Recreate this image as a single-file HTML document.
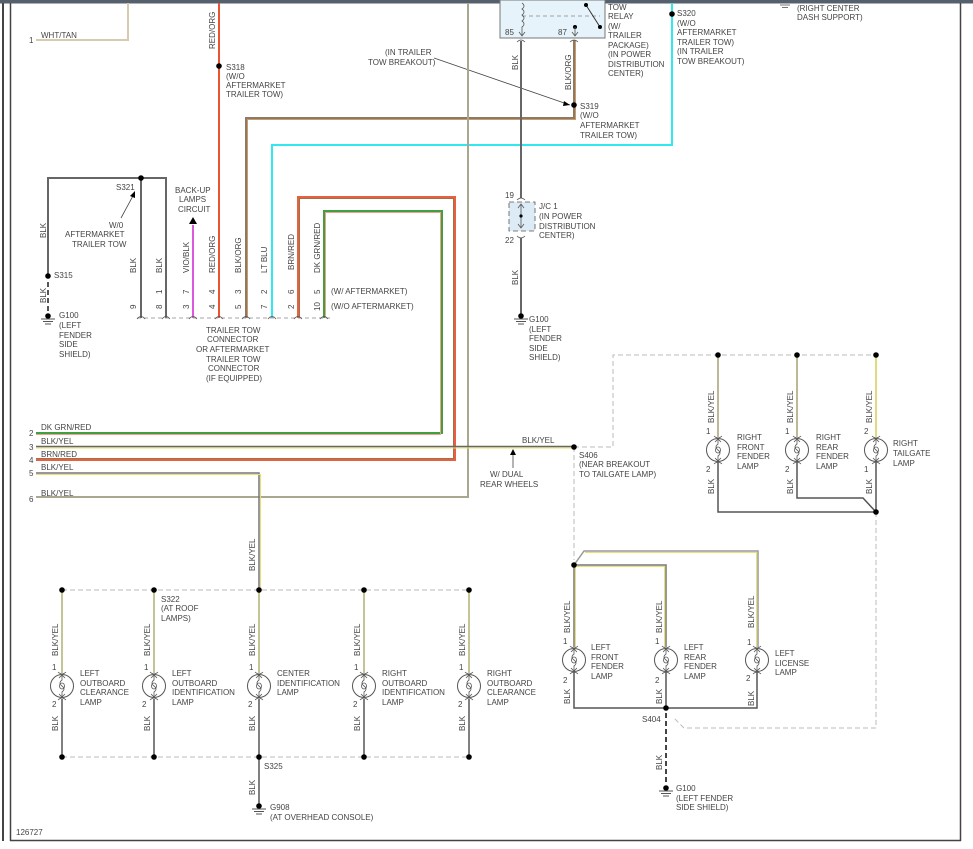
<!DOCTYPE html>
<html><head><meta charset="utf-8"><style>
html,body{margin:0;padding:0;background:#fff;}
svg{display:block;font-family:"Liberation Sans",sans-serif;}
text{font-size:8px;fill:#444;}
</style></head><body>
<svg width="973" height="849" viewBox="0 0 973 849" xmlns="http://www.w3.org/2000/svg">
<defs>
<g id="lamp">
<circle cx="0" cy="0" r="11.5" fill="#fff" stroke="#555" stroke-width="1"/>
<path d="M-4,-14 Q0,-10 4,-14 M-4,14 Q0,10 4,14" fill="none" stroke="#555" stroke-width="0.8"/>
<path d="M-3,-8 L0,-11 L3,-8 M0,-11 L0,-6 Q-4,-3 0,0 Q4,3 0,6 L0,11 M-3,8 L0,11 L3,8" fill="none" stroke="#555" stroke-width="0.8"/>
<ellipse cx="0" cy="0" rx="2.5" ry="3" fill="none" stroke="#555" stroke-width="0.8"/>
</g>
<g id="gnd">
<circle cx="0" cy="0" r="2.8" fill="#000"/>
<path d="M-7,3 H7 M-5,5.5 H5 M-3,8 H3" stroke="#555" stroke-width="1"/>
</g>
</defs>

<!-- frame -->
<rect x="0" y="0" width="973" height="3.5" fill="#56606c"/>
<line x1="3" y1="3" x2="3" y2="841" stroke="#444" stroke-width="2"/>
<line x1="10.5" y1="3" x2="10.5" y2="841" stroke="#444" stroke-width="1.5"/>
<line x1="10" y1="840.5" x2="961" y2="840.5" stroke="#444" stroke-width="1.5"/>
<line x1="960.5" y1="3" x2="960.5" y2="841" stroke="#444" stroke-width="1.5"/>

<!-- WHT/TAN -->
<polyline points="36,40 128,40 128,3" fill="none" stroke="#d8cab0" stroke-width="2"/>
<text x="29" y="43">1</text><text x="41" y="38">WHT/TAN</text>

<!-- RED/ORG -->
<line x1="219" y1="3" x2="219" y2="318" stroke="#e85530" stroke-width="2"/>
<circle cx="219" cy="66" r="2.8" fill="#000"/>
<text transform="translate(215,49) rotate(-90)">RED/ORG</text>
<text x="226" y="70">S318</text><text x="226" y="79">(W/O</text><text x="226" y="88">AFTERMARKET</text><text x="226" y="97">TRAILER TOW)</text>

<!-- BLK/ORG -->
<polyline points="246,318 246,118 574,118 574,40" fill="none" stroke="#8a7a6a" stroke-width="2"/>
<polyline points="247.5,318 247.5,119.5 575.5,119.5 575.5,40" fill="none" stroke="#d09a60" stroke-width="1"/>
<circle cx="574" cy="105" r="2.8" fill="#000"/>
<text x="580" y="109">S319</text><text x="580" y="118">(W/O</text><text x="580" y="128">AFTERMARKET</text><text x="580" y="138">TRAILER TOW)</text>
<text transform="translate(571,90) rotate(-90)">BLK/ORG</text>
<line x1="434" y1="58" x2="570" y2="105" stroke="#444" stroke-width="0.8"/>
<path d="M570,105 L564,101 L563,106 Z" fill="#000"/>
<text x="385" y="55">(IN TRAILER</text><text x="368" y="65">TOW BREAKOUT)</text>

<!-- LT BLU -->
<polyline points="272,318 272,145 672,145 672,3" fill="none" stroke="#30e8f0" stroke-width="2"/>
<circle cx="672" cy="14" r="2.8" fill="#000"/>
<text x="677" y="16">S320</text><text x="677" y="26">(W/O</text><text x="677" y="35">AFTERMARKET</text><text x="677" y="45">TRAILER TOW)</text><text x="677" y="54">(IN TRAILER</text><text x="677" y="64">TOW BREAKOUT)</text>
<text x="797" y="11">(RIGHT CENTER</text><text x="797" y="20">DASH SUPPORT)</text>
<path d="M780,5 H790 M782,7.5 H788" stroke="#777" stroke-width="1"/>

<!-- BRN/RED -->
<polyline points="298,318 298,197 455,197 455,460 36,460" fill="none" stroke="#e86040" stroke-width="2"/>
<polyline points="299.5,318 299.5,198.5 453.5,198.5 453.5,458.5 36,458.5" fill="none" stroke="#a07048" stroke-width="1"/>
<!-- DK GRN/RED -->
<polyline points="324,318 324,211 442,211 442,433 36,433" fill="none" stroke="#40a040" stroke-width="2"/>
<polyline points="325.5,318 325.5,212.5 440.5,212.5 440.5,434.5 36,434.5" fill="none" stroke="#f0a090" stroke-width="1"/>
<!-- row6 BLK/YEL -->
<polyline points="468,3 468,497 36,497" fill="none" stroke="#a8a890" stroke-width="2"/>
<!-- row3 -->
<line x1="36" y1="446.5" x2="574" y2="446.5" stroke="#666" stroke-width="1.5"/>
<line x1="36" y1="448" x2="574" y2="448" stroke="#e8e070" stroke-width="1"/>
<!-- row5 -->
<polyline points="36,473 259,473 259,590" fill="none" stroke="#777" stroke-width="1.5"/>
<polyline points="36,474.5 260.5,474.5 260.5,590" fill="none" stroke="#e8e070" stroke-width="1"/>

<text x="29" y="436">2</text><text x="41" y="430">DK GRN/RED</text>
<text x="29" y="450">3</text><text x="41" y="444">BLK/YEL</text>
<text x="29" y="463">4</text><text x="41" y="457">BRN/RED</text>
<text x="29" y="476">5</text><text x="41" y="470">BLK/YEL</text>
<text x="29" y="502">6</text><text x="41" y="496">BLK/YEL</text>
<text x="522" y="443">BLK/YEL</text>
<line x1="513" y1="450" x2="513" y2="468" stroke="#444" stroke-width="0.8"/>
<path d="M513,449 L510,455 L516,455 Z" fill="#000"/>
<text x="490" y="477">W/ DUAL</text><text x="480" y="487">REAR WHEELS</text>

<!-- BLK S321 group -->
<polyline points="48,276 48,178 166,178 166,318" fill="none" stroke="#666" stroke-width="2"/>
<line x1="141" y1="178" x2="141" y2="318" stroke="#666" stroke-width="2"/>
<circle cx="141" cy="178" r="2.8" fill="#000"/>
<text x="116" y="190">S321</text>
<line x1="121" y1="218" x2="134" y2="194" stroke="#444" stroke-width="0.8"/>
<path d="M135,191 L130,196 L135,198 Z" fill="#000"/>
<text x="109" y="228">W/0</text><text x="65" y="237">AFTERMARKET</text><text x="72" y="247">TRAILER TOW</text>
<text transform="translate(46,238) rotate(-90)">BLK</text>
<circle cx="48" cy="276" r="2.8" fill="#000"/><text x="54" y="278">S315</text>
<line x1="48" y1="282" x2="48" y2="312" stroke="#555" stroke-width="2" stroke-dasharray="5,3"/>
<text transform="translate(46,303) rotate(-90)">BLK</text>
<use href="#gnd" x="48" y="316"/>
<text x="59" y="318">G100</text><text x="59" y="328">(LEFT</text><text x="59" y="338">FENDER</text><text x="59" y="347">SIDE</text><text x="59" y="357">SHIELD)</text>

<!-- VIO/BLK -->
<line x1="193" y1="318" x2="193" y2="225" stroke="#d020d0" stroke-width="1.5"/>
<path d="M193,217 L189,224 L197,224 Z" fill="#000"/>
<text x="175" y="193">BACK-UP</text><text x="179" y="202">LAMPS</text><text x="178" y="212">CIRCUIT</text>

<!-- connector -->
<line x1="137" y1="318" x2="330" y2="318" stroke="#888" stroke-width="0.8" stroke-dasharray="4,3"/>
<g fill="none" stroke="#555" stroke-width="0.8">
<path d="M137,319 Q141,314 145,319 M162,319 Q166,314 170,319 M189,319 Q193,314 197,319 M215,319 Q219,314 223,319 M242,319 Q246,314 250,319 M268,319 Q272,314 276,319 M294,319 Q298,314 302,319 M320,319 Q324,314 328,319"/>
</g>
<g>
<text transform="translate(136,273) rotate(-90)">BLK</text>
<text transform="translate(162,273) rotate(-90)">BLK</text>
<text transform="translate(189,273) rotate(-90)">VIO/BLK</text>
<text transform="translate(215,273) rotate(-90)">RED/ORG</text>
<text transform="translate(241,273) rotate(-90)">BLK/ORG</text>
<text transform="translate(267,273) rotate(-90)">LT BLU</text>
<text transform="translate(294,270) rotate(-90)">BRN/RED</text>
<text transform="translate(320,273) rotate(-90)">DK GRN/RED</text>
<text transform="translate(162,294) rotate(-90)">1</text>
<text transform="translate(189,294) rotate(-90)">7</text>
<text transform="translate(215,294) rotate(-90)">4</text>
<text transform="translate(241,294) rotate(-90)">3</text>
<text transform="translate(267,294) rotate(-90)">2</text>
<text transform="translate(294,294) rotate(-90)">6</text>
<text transform="translate(320,294) rotate(-90)">5</text>
<text transform="translate(136,309) rotate(-90)">9</text>
<text transform="translate(162,309) rotate(-90)">8</text>
<text transform="translate(189,309) rotate(-90)">3</text>
<text transform="translate(215,309) rotate(-90)">4</text>
<text transform="translate(241,309) rotate(-90)">5</text>
<text transform="translate(267,309) rotate(-90)">7</text>
<text transform="translate(294,309) rotate(-90)">2</text>
<text transform="translate(320,311) rotate(-90)">10</text>
</g>
<text x="331" y="294">(W/ AFTERMARKET)</text>
<text x="331" y="309">(W/O AFTERMARKET)</text>
<text x="206" y="333">TRAILER TOW</text><text x="207" y="342">CONNECTOR</text><text x="196" y="352">OR AFTERMARKET</text><text x="206" y="362">TRAILER TOW</text><text x="208" y="371">CONNECTOR</text><text x="206" y="381">(IF EQUIPPED)</text>

<!-- relay -->
<rect x="500" y="0" width="105" height="38" fill="#e6f3fb" stroke="#777" stroke-width="1"/>
<line x1="522" y1="16" x2="600" y2="16" stroke="#888" stroke-width="0.8" stroke-dasharray="4,3"/>
<path d="M522,3 q4,3 0,6 q4,3 0,6 q4,3 0,6 q4,3 0,6 V36 M519,32 L522,36 L525,32" fill="none" stroke="#555" stroke-width="0.8"/>
<line x1="586" y1="5" x2="600" y2="27" stroke="#333" stroke-width="1"/>
<circle cx="586" cy="5" r="2" fill="#000"/><circle cx="600" cy="27" r="2" fill="#000"/>
<circle cx="575" cy="27" r="2" fill="#000"/>
<path d="M575,27 V36 M572,32 L575,36 L578,32" fill="none" stroke="#555" stroke-width="0.8"/>
<text x="505" y="35">85</text><text x="558" y="35">87</text>
<path d="M517,42 Q521,38 525,42 M570,42 Q574,38 578,42" fill="none" stroke="#555" stroke-width="0.8"/>
<text x="608" y="10">TOW</text><text x="608" y="19">RELAY</text><text x="608" y="29">(W/</text><text x="608" y="38">TRAILER</text><text x="608" y="48">PACKAGE)</text><text x="608" y="57">(IN POWER</text><text x="608" y="67">DISTRIBUTION</text><text x="608" y="76">CENTER)</text>
<line x1="521" y1="41" x2="521" y2="198" stroke="#666" stroke-width="2"/>
<text transform="translate(518,70) rotate(-90)">BLK</text>
<!-- J/C 1 -->
<rect x="509" y="202" width="26" height="29" fill="#dcebf6" stroke="#555" stroke-width="0.8" stroke-dasharray="5,3"/>
<path d="M517,200 Q521,196 525,200 M517,236 Q521,240 525,236" fill="none" stroke="#555" stroke-width="0.8"/>
<path d="M521,204 V228 M518,208 L521,204 L524,208 M518,224 L521,228 L524,224" fill="none" stroke="#555" stroke-width="0.8"/>
<circle cx="521" cy="216" r="1.6" fill="#000"/>
<text x="505" y="198">19</text><text x="505" y="243">22</text>
<text x="539" y="209">J/C 1</text><text x="539" y="219">(IN POWER</text><text x="539" y="229">DISTRIBUTION</text><text x="539" y="238">CENTER)</text>
<line x1="521" y1="238" x2="521" y2="314" stroke="#666" stroke-width="2"/>
<text transform="translate(518,285) rotate(-90)">BLK</text>
<use href="#gnd" x="521" y="316"/>
<text x="529" y="322">G100</text><text x="529" y="332">(LEFT</text><text x="529" y="341">FENDER</text><text x="529" y="351">SIDE</text><text x="529" y="360">SHIELD)</text>

<!-- right group -->
<g fill="none" stroke="#bbb" stroke-width="1" stroke-dasharray="5,3">
<polyline points="574,447 613,447 613,355 876,355"/>
<line x1="574" y1="447" x2="574" y2="560"/>
<polyline points="876,512 876,728 684,728 674,718"/>
</g>
<circle cx="574" cy="447" r="2.8" fill="#000"/>
<text x="579" y="458">S406</text><text x="579" y="467">(NEAR BREAKOUT</text><text x="579" y="477">TO TAILGATE LAMP)</text>
<g stroke-width="1.5" fill="none">
<line x1="718" y1="355" x2="718" y2="437" stroke="#a8a070"/>
<line x1="797" y1="355" x2="797" y2="437" stroke="#a8a070"/>
<line x1="876" y1="355" x2="876" y2="437" stroke="#d8d050"/>
<polyline points="718,462 718,512 876,512" stroke="#555"/>
<polyline points="797,462 797,498 863,498 876,512" stroke="#555"/>
<line x1="876" y1="462" x2="876" y2="512" stroke="#555"/>
</g>
<circle cx="718" cy="355" r="2.8" fill="#000"/><circle cx="797" cy="355" r="2.8" fill="#000"/><circle cx="876" cy="355" r="2.8" fill="#000"/><circle cx="876" cy="512" r="2.8" fill="#000"/>
<use href="#lamp" x="718" y="450"/><use href="#lamp" x="797" y="450"/><use href="#lamp" x="876" y="450"/>
<text transform="translate(714,423) rotate(-90)">BLK/YEL</text>
<text transform="translate(793,423) rotate(-90)">BLK/YEL</text>
<text transform="translate(872,423) rotate(-90)">BLK/YEL</text>
<text x="706" y="434">1</text><text x="785" y="434">1</text><text x="864" y="434">2</text>
<text x="706" y="472">2</text><text x="785" y="472">2</text><text x="864" y="472">1</text>
<text transform="translate(714,494) rotate(-90)">BLK</text>
<text transform="translate(793,494) rotate(-90)">BLK</text>
<text transform="translate(872,494) rotate(-90)">BLK</text>
<text x="737" y="440">RIGHT</text><text x="737" y="450">FRONT</text><text x="737" y="459">FENDER</text><text x="737" y="469">LAMP</text>
<text x="816" y="440">RIGHT</text><text x="816" y="450">REAR</text><text x="816" y="459">FENDER</text><text x="816" y="469">LAMP</text>
<text x="893" y="446">RIGHT</text><text x="893" y="456">TAILGATE</text><text x="893" y="466">LAMP</text>

<!-- left rear group -->
<g stroke-width="1.5" fill="none">
<polyline points="574,647 574,565 666,565 666,647" stroke="#777"/>
<polyline points="575.5,647 575.5,566.5 664.5,566.5 664.5,647" stroke="#e8e070" stroke-width="1"/>
<polyline points="574,565 584,551 758,551 758,647" stroke="#999"/>
<polyline points="585,552.5 756.5,552.5 756.5,647" stroke="#e8e070" stroke-width="1"/>
<polyline points="574,672 574,708 757,708 757,672" stroke="#555"/>
<line x1="666" y1="672" x2="666" y2="708" stroke="#555"/>
<line x1="666" y1="713" x2="666" y2="784" stroke="#444" stroke-width="2" stroke-dasharray="5,3"/>
</g>
<circle cx="574" cy="565" r="2.8" fill="#000"/><circle cx="666" cy="708" r="2.8" fill="#000"/>
<use href="#lamp" x="574" y="660"/><use href="#lamp" x="666" y="660"/><use href="#lamp" x="757" y="660"/>
<text transform="translate(570,633) rotate(-90)">BLK/YEL</text>
<text transform="translate(662,633) rotate(-90)">BLK/YEL</text>
<text transform="translate(754,628) rotate(-90)">BLK/YEL</text>
<text x="563" y="644">1</text><text x="655" y="644">1</text><text x="747" y="645">1</text>
<text x="563" y="683">2</text><text x="655" y="683">2</text><text x="746" y="681">2</text>
<text transform="translate(570,704) rotate(-90)">BLK</text>
<text transform="translate(662,704) rotate(-90)">BLK</text>
<text transform="translate(754,706) rotate(-90)">BLK</text>
<text x="591" y="650">LEFT</text><text x="591" y="660">FRONT</text><text x="591" y="669">FENDER</text><text x="591" y="679">LAMP</text>
<text x="684" y="650">LEFT</text><text x="684" y="660">REAR</text><text x="684" y="669">FENDER</text><text x="684" y="679">LAMP</text>
<text x="775" y="656">LEFT</text><text x="775" y="666">LICENSE</text><text x="775" y="675">LAMP</text>
<text x="642" y="722">S404</text>
<text transform="translate(662,770) rotate(-90)">BLK</text>
<use href="#gnd" x="666" y="788"/>
<text x="676" y="791">G100</text><text x="676" y="801">(LEFT FENDER</text><text x="676" y="810">SIDE SHIELD)</text>

<!-- roof lamps -->
<line x1="62" y1="590" x2="470" y2="590" stroke="#bbb" stroke-width="1" stroke-dasharray="5,3"/>
<line x1="62" y1="757" x2="470" y2="757" stroke="#bbb" stroke-width="1" stroke-dasharray="5,3"/>
<g stroke-width="1.5">
<line x1="62" y1="590" x2="62" y2="673" stroke="#b0b070"/>
<line x1="154" y1="590" x2="154" y2="673" stroke="#b0b070"/>
<line x1="259" y1="590" x2="259" y2="673" stroke="#b0b070"/>
<line x1="364" y1="590" x2="364" y2="673" stroke="#b0b070"/>
<line x1="469" y1="590" x2="469" y2="673" stroke="#b0b070"/>
<line x1="62" y1="699" x2="62" y2="757" stroke="#555"/>
<line x1="154" y1="699" x2="154" y2="757" stroke="#555"/>
<line x1="259" y1="699" x2="259" y2="805" stroke="#555"/>
<line x1="364" y1="699" x2="364" y2="757" stroke="#555"/>
<line x1="469" y1="699" x2="469" y2="757" stroke="#555"/>
</g>
<g fill="#000">
<circle cx="62" cy="590" r="2.8"/><circle cx="154" cy="590" r="2.8"/><circle cx="259" cy="590" r="2.8"/><circle cx="364" cy="590" r="2.8"/><circle cx="469" cy="590" r="2.8"/>
<circle cx="62" cy="757" r="2.8"/><circle cx="154" cy="757" r="2.8"/><circle cx="259" cy="757" r="2.8"/><circle cx="364" cy="757" r="2.8"/><circle cx="469" cy="757" r="2.8"/>
</g>
<use href="#lamp" x="62" y="686"/><use href="#lamp" x="154" y="686"/><use href="#lamp" x="259" y="686"/><use href="#lamp" x="364" y="686"/><use href="#lamp" x="469" y="686"/>
<text transform="translate(58,656) rotate(-90)">BLK/YEL</text>
<text transform="translate(150,656) rotate(-90)">BLK/YEL</text>
<text transform="translate(255,656) rotate(-90)">BLK/YEL</text>
<text transform="translate(360,656) rotate(-90)">BLK/YEL</text>
<text transform="translate(465,656) rotate(-90)">BLK/YEL</text>
<text transform="translate(255,571) rotate(-90)">BLK/YEL</text>
<text x="52" y="670">1</text><text x="144" y="670">1</text><text x="249" y="670">1</text><text x="354" y="670">1</text><text x="459" y="670">1</text>
<text x="52" y="707">2</text><text x="142" y="707">2</text><text x="248" y="707">2</text><text x="353" y="707">2</text><text x="458" y="707">2</text>
<text transform="translate(58,731) rotate(-90)">BLK</text>
<text transform="translate(150,731) rotate(-90)">BLK</text>
<text transform="translate(255,731) rotate(-90)">BLK</text>
<text transform="translate(360,731) rotate(-90)">BLK</text>
<text transform="translate(465,731) rotate(-90)">BLK</text>
<text x="80" y="676">LEFT</text><text x="80" y="686">OUTBOARD</text><text x="80" y="695">CLEARANCE</text><text x="80" y="705">LAMP</text>
<text x="172" y="676">LEFT</text><text x="172" y="686">OUTBOARD</text><text x="172" y="695">IDENTIFICATION</text><text x="172" y="705">LAMP</text>
<text x="277" y="676">CENTER</text><text x="277" y="686">IDENTIFICATION</text><text x="277" y="695">LAMP</text>
<text x="382" y="676">RIGHT</text><text x="382" y="686">OUTBOARD</text><text x="382" y="695">IDENTIFICATION</text><text x="382" y="705">LAMP</text>
<text x="487" y="676">RIGHT</text><text x="487" y="686">OUTBOARD</text><text x="487" y="695">CLEARANCE</text><text x="487" y="705">LAMP</text>
<text x="161" y="602">S322</text><text x="161" y="611">(AT ROOF</text><text x="161" y="621">LAMPS)</text>
<text x="264" y="769">S325</text>
<text transform="translate(255,795) rotate(-90)">BLK</text>
<use href="#gnd" x="259" y="806"/>
<text x="270" y="810">G908</text><text x="270" y="820">(AT OVERHEAD CONSOLE)</text>
<text x="16" y="835">126727</text>
</svg>
</body></html>
